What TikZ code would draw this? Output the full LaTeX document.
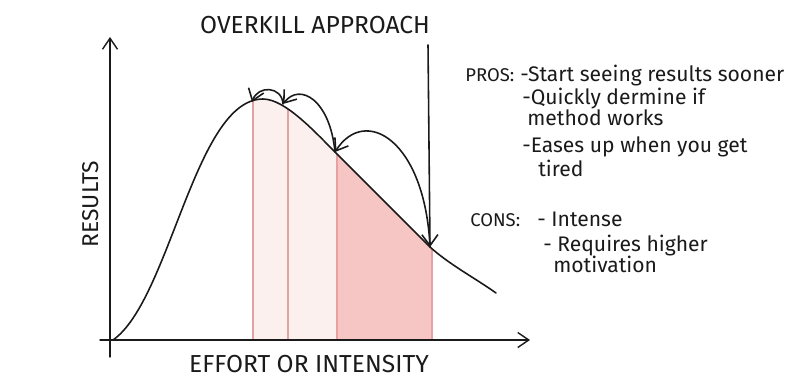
\documentclass[tikz,border=0pt]{standalone}
\usepackage{fontspec}
\setmainfont{Fira Sans}
\usetikzlibrary{arrows.meta,positioning}
\definecolor{ink}{HTML}{1A1A1A}
\definecolor{pencil}{HTML}{E9A0A0}
\definecolor{blush}{HTML}{F5C6C4}
\definecolor{faint}{HTML}{FCF0EF}
\newcommand{\effortcurve}{(113,340) .. controls (170,300) and (195,99) .. (263,99) .. controls (285,99) and (315,132) .. (335,152) .. controls (365,182) and (400,217) .. (430,247) .. controls (450,265) and (475,278) .. (496,293)}

\begin{document}
\begin{tikzpicture}[x=0.02cm, y=-0.02cm, line cap=round,
  every node/.style={font=\fontsize{12}{14}\selectfont, text=ink, inner sep=0pt},
  axis/.style={draw=ink, line width=0.8pt, -{Straight Barb[length=2.2mm,width=3mm]}},
  hop/.style={draw=ink, line width=0.9pt, -{Straight Barb[length=2.2mm,width=3.2mm]}},
  caps/.style={font=\fontsize{14}{16}\selectfont},
  note/.style={anchor=base west},
  head/.style={anchor=base west, font=\fontsize{10.5}{12}\selectfont}]
\useasboundingbox (0,0) rectangle (800,386);
% shaded band under the curve
\begin{scope}
  \clip \effortcurve -- (496,340) -- (113,340) -- cycle;
  \fill[faint] (252,0) rectangle (337,340);
  \fill[blush] (337,0) rectangle (432,340);
  \foreach \x in {253,288,337,432}{\draw[pencil, line width=1.4pt] (\x,0) -- (\x,340);}
\end{scope}
% axes
\coordinate (ytop) at (110,37);
\coordinate (ybot) at (110,357);
\coordinate (xleft) at (100,340);
\coordinate (xright) at (530,340);
\draw[axis] (ybot) -- (ytop);
\draw[axis] (xleft) -- (xright);
% curve
\draw[ink, line width=0.9pt] \effortcurve;
\coordinate (p1) at (252,102);
\coordinate (p2) at (283,104);
\coordinate (p3) at (335,152);
\coordinate (p4) at (430,247);
\coordinate (start) at (428,45);
\draw[hop] (start) -- (p4);
\draw[hop] (p4) .. controls (425,140) and (365,105) .. (p3);
\draw[hop] (p3) .. controls (330,100) and (300,82) .. (p2);
\draw[hop] (p2) .. controls (282,86) and (258,85) .. (p1);
% labels
\node[caps] (title) at (315,25) {OVERKILL APPROACH};
\node[caps] (xlabel) at (309,364) {EFFORT OR INTENSITY};
\node[caps, rotate=90, font=\fontsize{13}{15}\selectfont] (ylabel) at (91,204) {RESULTS};
% pros and cons
\node[head] (pros) at (465,81) {PROS:};
\node[note] (pro1) at (520,81) {-Start seeing results sooner};
\node[note] (pro2) at (522,104) {-Quickly dermine if};
\node[note] (pro2b) at (527,125) {method works};
\node[note] (pro3) at (522,152) {-Eases up when you get};
\node[note] (pro3b) at (538,176) {tired};
\node[head] (cons) at (470,226) {CONS:};
\node[note] (con1) at (537,226) {- Intense};
\node[note] (con2) at (543,251) {- Requires higher};
\node[note] (con2b) at (553,272) {motivation};
\end{tikzpicture}
\end{document}
